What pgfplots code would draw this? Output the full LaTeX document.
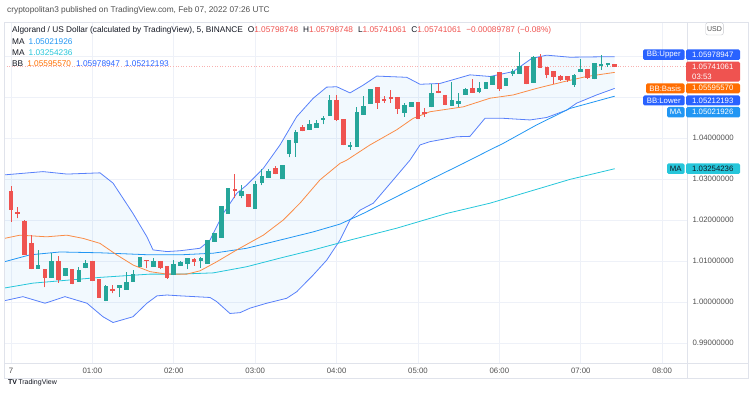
\documentclass[border=0pt]{standalone}
\usepackage{fontspec}
\setmainfont{Liberation Sans}
\usepackage{pgfplots}
\pgfplotsset{compat=1.18}
\usepackage{pgfplotstable}
\usepgfplotslibrary{fillbetween}

\definecolor{tvgreen}{RGB}{38,166,154}
\definecolor{tvred}{RGB}{239,83,80}
\definecolor{bbblue}{RGB}{41,98,255}
\definecolor{bbline}{RGB}{88,128,250}
\definecolor{maone}{RGB}{33,150,243}
\definecolor{matwo}{RGB}{38,198,218}
\definecolor{bborange}{RGB}{255,109,0}
\definecolor{orline}{RGB}{250,140,70}
\definecolor{gridc}{RGB}{238,241,248}
\definecolor{framec}{RGB}{224,227,235}
\definecolor{tvtext}{RGB}{19,23,34}
\definecolor{labgray}{RGB}{80,80,80}
\newcommand{\fs}{\fontsize{7.8}{9}\selectfont}
\newcommand{\fh}{\fontsize{8.3}{10}\selectfont}

% green (rising) candles: minutes after 00:00, open, high, low, close
\pgfplotstableread{
t O H L C
20 1.0082 1.0127 1.0082 1.0089
30 1.0060 1.0120 1.0060 1.0100
40 1.0065 1.0083 1.0063 1.0083
50 1.0050 1.0086 1.0050 1.0077
55 1.0085 1.0102 1.0082 1.0094
70 1.0005 1.0041 1.0002 1.0039
80 1.0037 1.0042 1.0013 1.0041
85 1.0032 1.0073 1.0032 1.0049
90 1.0052 1.0078 1.0052 1.0068
95 1.0088 1.0110 1.0086 1.0110
105 1.0088 1.0107 1.0086 1.0099
120 1.0068 1.0102 1.0068 1.0093
125 1.0090 1.0101 1.0089 1.0098
130 1.0094 1.0108 1.0080 1.0107
140 1.0102 1.0109 1.0084 1.0107
145 1.0094 1.0151 1.0093 1.0150
150 1.0149 1.0169 1.0147 1.0168
155 1.0159 1.0235 1.0158 1.0234
160 1.0218 1.0278 1.0217 1.0277
170 1.0261 1.0285 1.0253 1.0271
180 1.0230 1.0296 1.0228 1.0287
185 1.0293 1.0324 1.0285 1.0307
190 1.0306 1.0324 1.0303 1.0318
200 1.0302 1.0335 1.0301 1.0334
205 1.0363 1.0396 1.0353 1.0395
210 1.0389 1.0420 1.0354 1.0415
220 1.0421 1.0444 1.0420 1.0434
225 1.0428 1.0444 1.0427 1.0436
230 1.0446 1.0454 1.0434 1.0448
235 1.0456 1.0505 1.0455 1.0493
250 1.0380 1.0391 1.0371 1.0383
255 1.0380 1.0476 1.0379 1.0462
260 1.0458 1.0502 1.0457 1.0478
265 1.0486 1.0520 1.0485 1.0519
290 1.0464 1.0485 1.0452 1.0479
295 1.0479 1.0488 1.0478 1.0487
310 1.0478 1.0531 1.0475 1.0509
325 1.0480 1.0537 1.0479 1.0493
330 1.0486 1.0509 1.0476 1.0489
335 1.0507 1.0521 1.0506 1.0520
345 1.0515 1.0537 1.0509 1.0521
350 1.0523 1.0536 1.0522 1.0535
355 1.0532 1.0552 1.0531 1.0551
365 1.0529 1.0547 1.0528 1.0546
370 1.0558 1.0568 1.0551 1.0563
375 1.0559 1.0609 1.0558 1.0576
385 1.0537 1.0599 1.0535 1.0598
415 1.0532 1.0555 1.0525 1.0554
420 1.0564 1.0593 1.0562 1.0568
430 1.0546 1.0583 1.0543 1.0582
435 1.0577 1.0602 1.0566 1.0580
440 1.0580 1.0583 1.0574 1.0582
}\upc

% red (falling) candles
\pgfplotstableread{
t O H L C
0 1.0269 1.0284 1.0196 1.0224
5 1.0219 1.0231 1.0204 1.0214
10 1.0198 1.0199 1.0115 1.0116
15 1.0144 1.0163 1.0080 1.0080
25 1.0080 1.0080 1.0036 1.0059
35 1.0100 1.0111 1.0047 1.0055
45 1.0080 1.0081 1.0043 1.0044
60 1.0100 1.0101 1.0051 1.0052
65 1.0055 1.0056 1.0010 1.0011
75 1.0032 1.0041 1.0021 1.0028
100 1.0102 1.0103 1.0082 1.0100
110 1.0100 1.0101 1.0080 1.0084
115 1.0088 1.0089 1.0057 1.0058
135 1.0104 1.0107 1.0088 1.0098
165 1.0275 1.0311 1.0253 1.0271
175 1.0263 1.0264 1.0231 1.0232
195 1.0325 1.0332 1.0311 1.0312
215 1.0425 1.0432 1.0416 1.0417
240 1.0493 1.0505 1.0442 1.0444
245 1.0446 1.0447 1.0382 1.0383
270 1.0524 1.0525 1.0471 1.0486
275 1.0494 1.0502 1.0486 1.0490
280 1.0499 1.0517 1.0486 1.0495
285 1.0499 1.0500 1.0459 1.0472
300 1.0487 1.0488 1.0446 1.0448
305 1.0462 1.0472 1.0452 1.0459
315 1.0515 1.0533 1.0509 1.0510
320 1.0505 1.0506 1.0480 1.0482
340 1.0521 1.0543 1.0510 1.0511
360 1.0560 1.0561 1.0515 1.0521
380 1.0574 1.0575 1.0531 1.0532
390 1.0598 1.0605 1.0571 1.0572
395 1.0572 1.0573 1.0546 1.0555
400 1.0563 1.0564 1.0532 1.0550
405 1.0551 1.0554 1.0540 1.0543
410 1.0551 1.0552 1.0537 1.0541
425 1.0568 1.0569 1.0545 1.0546
445 1.05799 1.05799 1.05741 1.05741
}\downc

\pgfplotsset{
  candle/.style 2 args={only marks, mark=*, mark size=0pt, mark options={draw=none, fill=none},
    error bars/.cd, y dir=both, y explicit, error mark=none,
    error bar style={line width=#1, draw=#2, solid}},
}

\begin{document}
\begin{tikzpicture}
\path (0pt,0pt) rectangle (750pt,394pt);

\begin{axis}[
  set layers,
  at={(4pt,31pt)}, anchor=south west,
  width=683pt, height=341pt, scale only axis,
  xmin=-5.16, xmax=498.3, ymin=0.98512, ymax=1.06829,
  axis line style={framec},
  tick style={draw=none},
  grid=major, major grid style={gridc, line width=0.8pt},
  xtick={0,60,120,180,240,300,360,420,480},
  xticklabels={7,01:00,02:00,03:00,04:00,05:00,06:00,07:00,08:00},
  xticklabel style={font=\fs, text=labgray, yshift=-1.5pt},
  ytick={0.99,1.0,1.01,1.02,1.03,1.04,1.05,1.06},
  yticklabels={0.99000000,1.00000000,1.01000000,1.02000000,1.03000000,1.04000000,{},{}},
  yticklabel pos=right,
  yticklabel style={font=\fs, text=labgray, anchor=west, xshift=2pt},
]
% Bollinger band
\addplot[bbline, line width=0.8pt, name path=upper] coordinates {
(-5,1.0310) (23.6,1.0318) (41.3,1.0312) (65.6,1.0315) (75.2,1.0290) (89.9,1.0216) (100.2,1.0159) (104.7,1.0127) (115,1.0123) (124.6,1.0125) (139.3,1.0131) (146.7,1.0151) (156.5,1.0216) (166.4,1.0265) (173.7,1.0285) (186,1.0326) (198.3,1.0383) (210.6,1.0452) (222.8,1.0497) (232.7,1.0524) (240.1,1.0525) (249.9,1.0510) (259.7,1.0529) (269.6,1.0551) (291.7,1.0548) (301.5,1.0531) (316.2,1.0533) (338.3,1.0554) (353.1,1.0550) (370.2,1.0562) (383.8,1.0594) (394.9,1.0602) (412,1.0597) (434.2,1.0598) (445,1.0598)};
\addplot[bbline, line width=0.8pt, name path=lower] coordinates {
(-5,1.0003) (8.8,1.0013) (25.1,0.9997) (39.8,1.0013) (56,0.9997) (67.8,0.9964) (75.2,0.9950) (89.9,0.9964) (100.2,0.9997) (107.6,1.0015) (115,1.0017) (124.6,1.0015) (146.7,1.0011) (151.6,1.0001) (161.4,0.9972) (168.8,0.9974) (176.2,0.9985) (188.5,0.9997) (203.2,1.0009) (210.6,1.0025) (222.8,1.0066) (232.7,1.0102) (242.5,1.0151) (249.9,1.0200) (257.3,1.0224) (267.1,1.0241) (281.8,1.0298) (294.1,1.0346) (301.5,1.0383) (308.8,1.0391) (328.5,1.0403) (338.3,1.0404) (349.4,1.0448) (362.9,1.0448) (382.6,1.0444) (394.9,1.0450) (409.6,1.0468) (417,1.0485) (431.7,1.0505) (445,1.0521)};
\addplot[fill=maone, fill opacity=0.06, draw=none] fill between[of=upper and lower];
% moving averages
\addplot[maone, line width=0.8pt] coordinates {
(-5,1.0098) (14,1.0115) (36.1,1.0122) (65.6,1.0120) (102.5,1.0115) (124.6,1.0115) (149.1,1.0119) (173.7,1.0131) (198.3,1.0151) (222.8,1.0171) (242.5,1.0190) (259.7,1.0216) (284.3,1.0257) (308.8,1.0298) (333.4,1.0338) (353.1,1.0371) (362.9,1.0387) (387.5,1.0432) (412,1.0472) (445,1.0502)};
\addplot[matwo, line width=0.8pt] coordinates {
(-5,1.0034) (16.2,1.0046) (65.6,1.0060) (102.5,1.0068) (124.6,1.0068) (149.1,1.0071) (173.7,1.0086) (198.3,1.0107) (222.8,1.0127) (249.9,1.0151) (284.3,1.0180) (321.2,1.0216) (353.1,1.0241) (412,1.0299) (445,1.0325)};
% BB basis
\addplot[orline, line width=0.8pt] coordinates {
(-5,1.0155) (6.6,1.0163) (26.3,1.0159) (41.1,1.0163) (53.3,1.0155) (65.6,1.0143) (77.9,1.0115) (90.1,1.0090) (102.5,1.0074) (114.8,1.0068) (129.5,1.0068) (139.3,1.0076) (151.6,1.0098) (166.4,1.0127) (186,1.0163) (200.7,1.0200) (213,1.0241) (227.8,1.0298) (242.5,1.0338) (247.5,1.0346) (264.6,1.0383) (284.3,1.0420) (296.5,1.0448) (308.8,1.0464) (333.4,1.0476) (353.1,1.0497) (370.2,1.0505) (387.5,1.0521) (407.1,1.0537) (424.3,1.0550) (445,1.0560)};
% last price line
\addplot[tvred!45, dotted, line width=0.6pt] coordinates {(-5.16,1.05741) (498.3,1.05741)};
% candles: wicks
\addplot[candle={1pt}{tvgreen}]
  table[x=t, y=L, y error plus expr={\thisrow{H}-\thisrow{L}}, y error minus expr={0}] {\upc};
\addplot[candle={1pt}{tvred}]
  table[x=t, y=L, y error plus expr={\thisrow{H}-\thisrow{L}}, y error minus expr={0}] {\downc};
% candles: bodies
\addplot[candle={4.6pt}{tvgreen}]
  table[x=t, y=O, y error plus expr={max(\thisrow{C}-\thisrow{O},0)+0.00006}, y error minus expr={max(\thisrow{O}-\thisrow{C},0)+0.00006}] {\upc};
\addplot[candle={4.6pt}{tvred}]
  table[x=t, y=O, y error plus expr={max(\thisrow{C}-\thisrow{O},0)+0.00006}, y error minus expr={max(\thisrow{O}-\thisrow{C},0)+0.00006}] {\downc};
\end{axis}

% frame of the chart pane
\draw[framec, line width=0.6pt] (4pt,16pt) rectangle (748pt,372pt);
\draw[framec, line width=0.6pt] (687pt,16pt) -- (687pt,372pt);
\draw[framec, line width=0.6pt] (4pt,31pt) -- (748pt,31pt);

% header texts
\node[anchor=west, font=\fh, text=labgray, inner sep=0pt] at (7pt,384pt) {cryptopolitan3 published on TradingView.com, Feb 07, 2022 07:26 UTC};
\node[anchor=west, font=\fh, text=tvtext, inner sep=0pt] at (12pt,364pt) {Algorand / US Dollar (calculated by TradingView), 5, BINANCE\hspace{5pt}O\textcolor{tvred}{1.05798748}\hspace{5pt}H\textcolor{tvred}{1.05798748}\hspace{5pt}L\textcolor{tvred}{1.05741061}\hspace{5pt}C\textcolor{tvred}{1.05741061}\hspace{5pt}\textcolor{tvred}{−0.00089787 (−0.08\%)}};
\node[anchor=west, font=\fh, text=tvtext, inner sep=0pt] at (12pt,352.3pt) {MA\hspace{4pt}\textcolor{maone}{1.05021926}};
\node[anchor=west, font=\fh, text=tvtext, inner sep=0pt] at (12pt,341.7pt) {MA\hspace{4pt}\textcolor{matwo}{1.03254236}};
\node[anchor=west, font=\fh, text=tvtext, inner sep=0pt] at (12pt,330.7pt) {BB\hspace{4pt}\textcolor{bborange}{1.05595570}\hspace{5pt}\textcolor{bbblue}{1.05978947}\hspace{5pt}\textcolor{bbblue}{1.05212193}};

% USD box
\draw[framec!70!gray, rounded corners=2pt, fill=white] (705.7pt,359pt) rectangle (723.3pt,371.3pt);
\node[font=\fontsize{7}{8}\selectfont, text=labgray] at (714.5pt,365.1pt) {USD};

% right-side labels
\fill[bbblue, rounded corners=1.5pt] (643pt,334pt) rectangle (684.5pt,344.7pt);
\node[font=\fs, text=white, inner sep=0pt] at (663.7pt,339.3pt) {BB:Upper};
\fill[bbblue, rounded corners=1.5pt] (686pt,334pt) rectangle (740pt,344.7pt);
\node[font=\fs, text=white, inner sep=0pt, anchor=west] at (692pt,339.3pt) {1.05978947};

\fill[tvred, rounded corners=1.5pt] (686pt,312.3pt) rectangle (740pt,332.3pt);
\node[font=\fs, text=white, inner sep=0pt, anchor=west] at (692pt,327pt) {1.05741061};
\node[font=\fs, text=white, inner sep=0pt, anchor=west] at (692pt,317pt) {03:53};

\fill[bborange, rounded corners=1.5pt] (646pt,300.7pt) rectangle (684.5pt,310.7pt);
\node[font=\fs, text=white, inner sep=0pt] at (665.2pt,305.7pt) {BB:Basis};
\fill[bborange, rounded corners=1.5pt] (686pt,300.7pt) rectangle (740pt,310.7pt);
\node[font=\fs, text=white, inner sep=0pt, anchor=west] at (692pt,305.7pt) {1.05595570};

\fill[bbblue, rounded corners=1.5pt] (643pt,288.5pt) rectangle (684.5pt,298.5pt);
\node[font=\fs, text=white, inner sep=0pt] at (663.7pt,293.5pt) {BB:Lower};
\fill[bbblue, rounded corners=1.5pt] (686pt,288.5pt) rectangle (740pt,298.5pt);
\node[font=\fs, text=white, inner sep=0pt, anchor=west] at (692pt,293.5pt) {1.05212193};

\fill[maone, rounded corners=1.5pt] (667pt,276.5pt) rectangle (684.5pt,287pt);
\node[font=\fs, text=white, inner sep=0pt] at (675.7pt,281.7pt) {MA};
\fill[maone, rounded corners=1.5pt] (686pt,276.5pt) rectangle (740pt,287pt);
\node[font=\fs, text=white, inner sep=0pt, anchor=west] at (692pt,281.7pt) {1.05021926};

\fill[matwo, rounded corners=1.5pt] (667pt,220pt) rectangle (684.5pt,230.7pt);
\node[font=\fs, text=tvtext, inner sep=0pt] at (675.7pt,225.3pt) {MA};
\fill[matwo, rounded corners=1.5pt] (686pt,220pt) rectangle (740pt,230.7pt);
\node[font=\fs, text=tvtext, inner sep=0pt, anchor=west] at (692pt,225.3pt) {1.03254236};

% footer
\node[anchor=west, font=\fontsize{7}{8}\selectfont, text=tvtext, inner sep=0pt] at (8pt,11pt) {\textbf{TV}\,TradingView};
\end{tikzpicture}
\end{document}
